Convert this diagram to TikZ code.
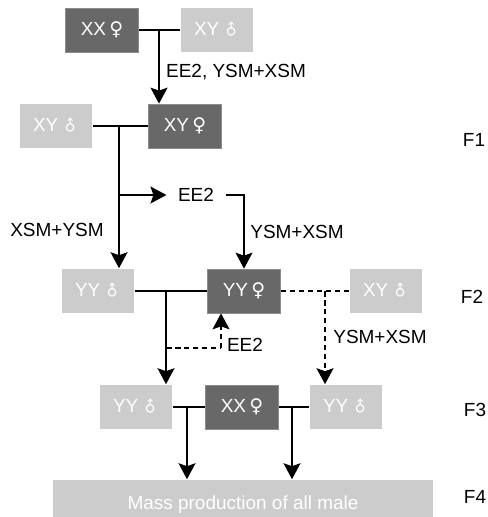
\documentclass[tikz,border=0pt]{standalone}
\usepackage{fontspec}
\setmainfont{Liberation Sans}
\newfontfamily\symfont{DejaVu Sans}
\usepackage{tikz}
\usetikzlibrary{arrows.meta, calc}
\definecolor{darkbox}{RGB}{104, 104, 104}
\definecolor{darkedge}{RGB}{140, 140, 140}
\definecolor{lightbox}{RGB}{204, 204, 204}
\newcommand{\fem}{\,{\symfont\char"2640}}
\newcommand{\mal}{\,\rotatebox[origin=c]{45}{\scalebox{0.8}{\symfont\char"2642}}}

\begin{document}
\begin{tikzpicture}[x=0.02cm, y=-0.02cm, line width=0.9pt,
    font=\fontsize{10.8}{13}\selectfont,
    femalebox/.style={fill=darkbox, draw=darkedge, line width=0.4pt, text=white,
        minimum width=1.46cm, minimum height=0.88cm, inner sep=0pt},
    malebox/.style={fill=lightbox, text=white,
        minimum width=1.46cm, minimum height=0.88cm, inner sep=0pt},
    arr/.style={-{Stealth[length=0.32cm, width=0.34cm, inset=0.06cm]}},
    dsh/.style={dash pattern=on 0.11cm off 0.07cm}]
    \useasboundingbox (0,0) rectangle (487,517);

    % parents
    \node[femalebox] (p0f) at (102,30) {XX\fem};
    \node[malebox] (p0m) at (217,30) {XY\mal};
    % F1
    \node[malebox] (f1m) at (56,126) {XY\mal};
    \node[femalebox] (f1f) at (185,126) {XY\fem};
    % F2
    \node[malebox] (f2m) at (98,291) {YY\mal};
    \node[femalebox] (f2f) at (244,291) {YY\fem};
    \node[malebox] (f2x) at (386,291) {XY\mal};
    % F3
    \node[malebox] (f3l) at (136,407) {YY\mal};
    \node[femalebox] (f3f) at (242,407) {XX\fem};
    \node[malebox] (f3r) at (346,407) {YY\mal};
    % F4
    \node[fill=lightbox, text=white, minimum width=7.6cm, minimum height=1cm,
        inner sep=0pt] (bar) at (243,505) {Mass production of all male};

    % generation labels
    \node (g1) at (474,140) {F1};
    \node (g2) at (472,297) {F2};
    \node (g3) at (475,410) {F3};
    \node (g4) at (475,497) {F4};

    % treatment labels
    \node (t0) at (236,72) {EE2, YSM+XSM};
    \node (ee2a) at (196,195) {EE2};
    \node (t1) at (57,230) {XSM+YSM};
    \node (t2) at (297,232) {YSM+XSM};
    \node (ee2b) at (245,345) {EE2};
    \node (t3) at (380,337) {YSM+XSM};

    % junctions
    \coordinate (j0) at (159,30);
    \coordinate (j1) at (119,126);
    \coordinate (b1) at (119,195);
    \coordinate (j2) at (166,291);
    \coordinate (d2) at (166,348);
    \coordinate (d3) at (221,348);
    \coordinate (j3) at (325,291);
    \coordinate (j4) at (187,407);
    \coordinate (j5) at (292,407);

    \draw (p0f) -- (p0m);
    \draw[arr] (j0) -- (j0 |- f1f.north);
    \draw (f1m) -- (f1f);
    \draw[arr] (j1) -- (j1 |- f2m.north);
    \draw[arr] (b1) -- ([xshift=-0.1cm]ee2a.west);
    \draw[arr] ([xshift=0.1cm]ee2a.east) -| (f2f.north);
    \draw (f2m) -- (f2f);
    \draw[dsh] (f2f) -- (f2x);
    \draw[arr] (j2) -- (j2 |- f3l.north);
    \draw[dsh] (d2) -- (d3);
    \draw[arr, dsh] (d3) -- (d3 |- f2f.south);
    \draw[arr, dsh] (j3) -- (j3 |- f3r.north);
    \draw (f3l) -- (f3f);
    \draw (f3f) -- (f3r);
    \draw[arr] (j4) -- (j4 |- bar.north);
    \draw[arr] (j5) -- (j5 |- bar.north);
\end{tikzpicture}
\end{document}
